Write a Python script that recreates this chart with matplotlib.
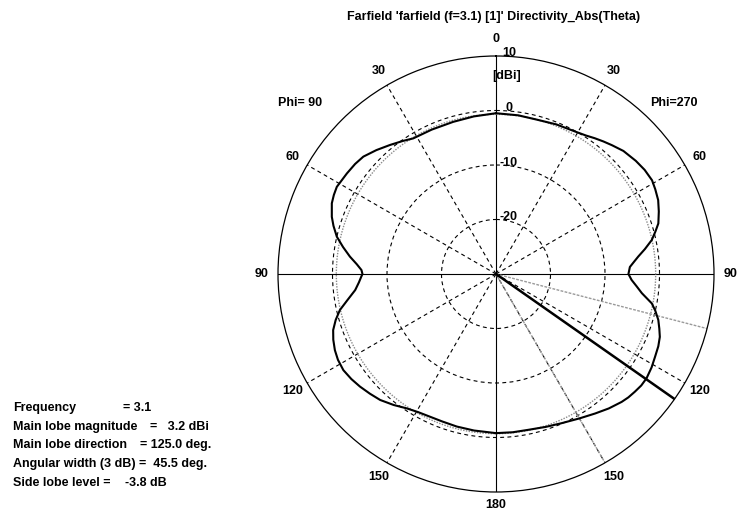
import numpy as np
import matplotlib
matplotlib.use("Agg")
import matplotlib.pyplot as plt

# ---------------- data ----------------
# Phi = 270 half (drawn on the right), theta in degrees, directivity in dBi
theta_phi270 = [0, 8, 15, 22, 29, 33, 36, 39, 42, 46, 51, 55, 59, 62, 65.5,
                69, 72.7, 75, 77.7, 80.5, 83, 85, 87, 90, 92.5, 95, 97.5,
                100.7, 103, 105.8, 108.5, 111, 114, 117.5, 121, 124.7, 127.5,
                130.3, 133, 135.5, 140, 144.6, 150, 156.3, 162, 168.3, 174, 180]
dir_phi270 = [-0.5, -0.6, -0.7, -0.4, -0.1, 0.3, 0.8, 1.3, 1.8, 2.5, 3.0, 3.3,
              3.4, 3.1, 2.7, 2.0, 1.2, 0.3, -0.75, -2.3, -3.7, -4.6, -5.4, -5.7,
              -5.1, -4.1, -3.0, -0.9, 0.0, 0.95, 1.6, 2.2, 2.6, 2.9, 3.3, 3.6,
              3.6, 3.4, 3.2, 2.9, 2.2, 1.4, 0.6, -0.1, -0.5, -0.8, -0.8, -0.8]
# Phi = 90 half (drawn on the left)
theta_phi90 = [0, 8, 15.7, 24, 31.4, 35, 39.4, 44, 48.5, 52, 56, 61.3, 64,
               66.7, 70.8, 73.5, 76.8, 80, 83.2, 86, 88.3, 90, 91, 93.5, 96.5,
               100, 103, 106, 109, 112, 115.3, 118.5, 122.2, 126, 129.6, 133.5,
               137.4, 142, 146.4, 150.5, 155.2, 160, 165.6, 172, 180]
dir_phi90 = [-0.5, -0.8, -1.0, -1.0, -0.85, -0.2, 0.64, 1.6, 2.5, 2.8, 3.0,
             3.3, 3.1, 2.8, 1.9, 1.1, 0.0, -1.5, -3.0, -4.4, -5.3, -5.5, -5.3,
             -4.8, -4.0, -2.3, -0.6, 0.6, 1.6, 2.2, 2.7, 3.0, 3.1, 2.8, 2.4,
             1.9, 1.4, 0.5, -0.4, -0.9, -1.15, -1.2, -1.1, -1.0, -0.8]

main_lobe_dir = 125.0          # deg
beam_edges = [104.5, 150.0]    # 3 dB beamwidth edges, deg
level_3db = -0.7               # 3 dB contour level (as drawn)

r_min, r_max = -30, 10
ring_levels = [-20, -10, 0]
ring_labels = ["-20", "-10", "0"]
dashed_angles = [30, 60, 120, 150, 210, 240, 300, 330]
solid_angles = [0, 90, 180, 270]
theta_label_angles = [0, 30, 60, 90, 120, 150, 330, 300, 270, 240, 210]
theta_label_texts = ["0", "30", "60", "90", "120", "150",
                     "30", "60", "90", "120", "150"]

title = "Farfield 'farfield (f=3.1) [1]' Directivity_Abs(Theta)"
info_left = ["Frequency", "Main lobe magnitude", "Main lobe direction",
             "Angular width (3 dB)", "Side lobe level ="]
info_right = ["= 3.1", "=   3.2 dBi", "= 125.0 deg.", "=  45.5 deg.", "-3.8 dB"]
info_right_x = [123, 150, 140, 139, 125]

# ---------------- figure ----------------
W, H = 739, 511
fig = plt.figure(figsize=(W / 100, H / 100), dpi=100)
fig.patch.set_facecolor("white")
font = dict(family=["Liberation Sans", "DejaVu Sans"], weight="bold", size=9)

cx, cy, R = 496, 274, 218
ax = fig.add_axes([(cx - R) / W, (H - cy - R) / H, 2 * R / W, 2 * R / H],
                  projection="polar")
ax.set_theta_zero_location("N")
ax.set_theta_direction(-1)
ax.set_facecolor("white")
ax.spines["polar"].set_linewidth(0.9)
ax.spines["polar"].set_color("black")

dash = (0, (3.5, 3))
ax.set_rgrids(ring_levels)
ax.set_yticklabels([])
ax.yaxis.grid(True, color="black", linestyle=dash, linewidth=0.8)
ax.set_xticks(np.deg2rad(dashed_angles))
ax.set_xticklabels([])
ax.xaxis.grid(True, color="black", linestyle=dash, linewidth=0.8)
ax.tick_params(length=0)

for a in solid_angles:
    ax.plot([np.deg2rad(a)] * 2, [r_min, r_max], color="black", lw=0.8)

# 3 dB contour
tt = np.linspace(0, 2 * np.pi, 361)
ax.plot(tt, np.full_like(tt, level_3db), color="#8a8a8a", lw=1.0,
        linestyle=(0, (1, 1)))

# beamwidth edges and main lobe direction
for a in beam_edges:
    ax.plot([np.deg2rad(a)] * 2, [r_min, r_max], color="#9a9a9a", lw=1.0,
            linestyle=(0, (2, 1)))
ax.plot([np.deg2rad(main_lobe_dir)] * 2, [r_min, r_max], color="black", lw=1.8)

# pattern
ax.plot(np.deg2rad(theta_phi270), dir_phi270, color="black", lw=1.5)
ax.plot(2 * np.pi - np.deg2rad(theta_phi90), dir_phi90, color="black", lw=1.5)

ax.set_thetalim(0, 2 * np.pi)
ax.set_rlim(r_min, r_max)

# theta labels
for a, t in zip(theta_label_angles, theta_label_texts):
    ax.text(np.deg2rad(a), r_max + 3.1, t, ha="center", va="center",
            clip_on=False, **font)
ax.text(np.deg2rad(180), r_max + 2.3, "180", ha="center", va="center",
        clip_on=False, **font)

# ring labels
for lv, t in zip(ring_levels + [r_max], ring_labels + ["10"]):
    ax.annotate(t, xy=(0, lv), xytext=(13, 2.5), textcoords="offset pixels",
                ha="center", va="center", annotation_clip=False, **font)
ax.annotate("[dBi]", xy=(0, r_max), xytext=(11, -20), textcoords="offset pixels",
            ha="center", va="center", annotation_clip=False, **font)

# phi labels
fig.text(300 / W, 1 - 103 / H, "Phi= 90", ha="center", va="center", **font)
fig.text(674 / W, 1 - 103 / H, "Phi=270", ha="center", va="center", **font)

# title
fig.text(494 / W, 1 - 17 / H, title, ha="center", va="center", **font)

# info block
ys = [408, 427, 445, 464, 483]
for y, l, r, xr in zip(ys, info_left, info_right, info_right_x):
    fig.text(13 / W, 1 - y / H, l, ha="left", va="center", **font)
    fig.text(xr / W, 1 - y / H, r, ha="left", va="center", **font)

fig.savefig("out.png", dpi=100, facecolor="white")
